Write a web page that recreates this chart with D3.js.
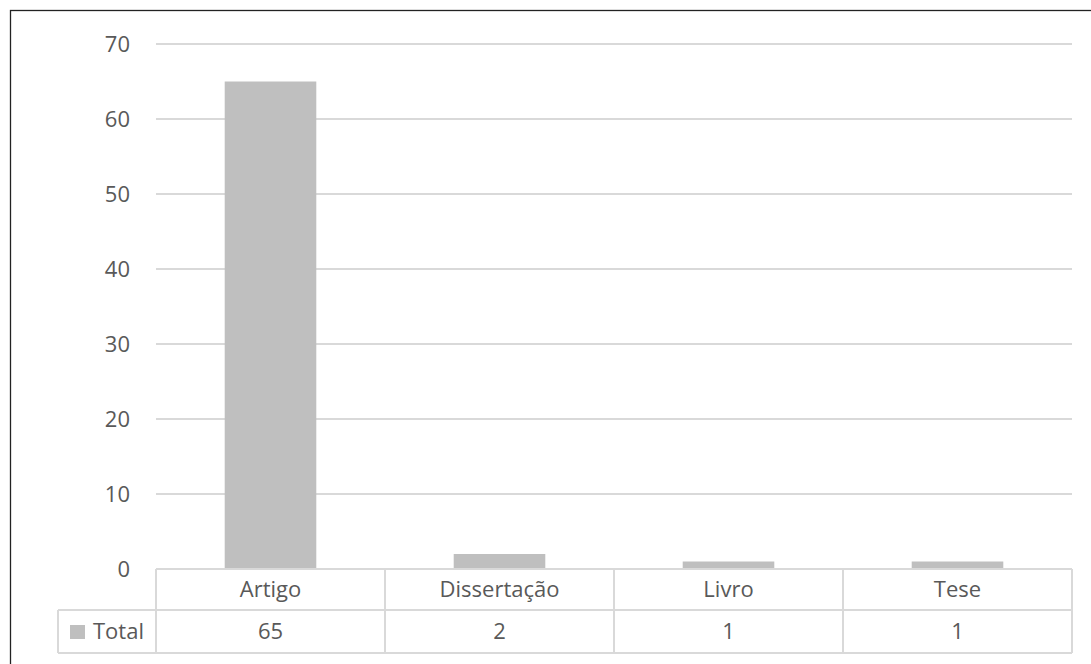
<html>
<meta charset="utf-8">
<title>Total por tipo</title>
<style>
  body { margin: 0; background: #fff; }
  text { font-family: "Open Sans", sans-serif; fill: #595959; }
</style>
<div id="chartContainer"></div>
<script src="https://d3js.org/d3.v7.min.js"></script>
<script type="text/javascript">
  var categories = ["Artigo", "Dissertação", "Livro", "Tese"];
  var totals = [65, 2, 1, 1];
  var seriesName = "Total";
  var yTicks = [0, 10, 20, 30, 40, 50, 60, 70];

  var svg = d3.select("#chartContainer").append("svg")
    .attr("width", 1091)
    .attr("height", 664);

  // outer chart frame (right/bottom sit outside the picture)
  svg.append("rect")
    .attr("x", 10.5).attr("y", 10.5)
    .attr("width", 1100).attr("height", 700)
    .style("fill", "none")
    .style("stroke", "#222")
    .style("stroke-width", 1.3);

  // note: "top" is taken by window.top, so plot* names
  var plotLeft = 156, plotRight = 1072, plotTop = 44, plotBottom = 569;

  var y = d3.scaleLinear().domain([0, 70]).range([plotBottom, plotTop]);
  var x = d3.scaleBand().domain(categories).range([plotLeft, plotRight])
    .paddingInner(0.6).paddingOuter(0.3);
  var cell = d3.scaleBand().domain(categories).range([plotLeft, plotRight]).padding(0);

  // gridlines
  svg.append("g").selectAll("line")
    .data(yTicks.filter(function (d) { return d > 0; }))
    .enter().append("line")
    .attr("x1", plotLeft).attr("x2", plotRight)
    .attr("y1", function (d) { return y(d); })
    .attr("y2", function (d) { return y(d); })
    .style("stroke", "#d9d9d9")
    .style("stroke-width", 2);

  // y labels
  svg.append("g").selectAll("text")
    .data(yTicks)
    .enter().append("text")
    .attr("x", 130)
    .attr("y", function (d) { return y(d); })
    .attr("dy", "0.35em")
    .style("text-anchor", "end")
    .style("font-size", "22px")
    .text(function (d) { return d; });

  // bars
  svg.append("g").selectAll("rect")
    .data(totals)
    .enter().append("rect")
    .attr("x", function (d, i) { return x(categories[i]); })
    .attr("width", x.bandwidth())
    .attr("y", function (d) { return y(d); })
    .attr("height", function (d) { return y(0) - y(d); })
    .style("fill", "#bfbfbf");

  // data table
  var rowTop = plotBottom, rowMid = 610, rowBot = 653, legLeft = 58;
  var grid = svg.append("g")
    .style("stroke", "#d9d9d9")
    .style("stroke-width", 2);

  grid.append("line").attr("x1", plotLeft).attr("x2", plotRight).attr("y1", rowTop).attr("y2", rowTop);
  grid.append("line").attr("x1", legLeft).attr("x2", plotRight).attr("y1", rowMid).attr("y2", rowMid);
  grid.append("line").attr("x1", legLeft).attr("x2", plotRight).attr("y1", rowBot).attr("y2", rowBot);
  grid.append("line").attr("x1", legLeft).attr("x2", legLeft).attr("y1", rowMid).attr("y2", rowBot);

  grid.selectAll(".vline")
    .data(categories.concat(["end"]))
    .enter().append("line")
    .attr("class", "vline")
    .attr("x1", function (d, i) { return plotLeft + i * cell.step(); })
    .attr("x2", function (d, i) { return plotLeft + i * cell.step(); })
    .attr("y1", rowTop).attr("y2", rowBot);

  svg.append("g").selectAll("text")
    .data(categories)
    .enter().append("text")
    .attr("x", function (d) { return cell(d) + cell.bandwidth() / 2; })
    .attr("y", (rowTop + rowMid) / 2)
    .attr("dy", "0.35em")
    .style("text-anchor", "middle")
    .style("font-size", "22px")
    .text(function (d) { return d; });

  svg.append("g").selectAll("text")
    .data(totals)
    .enter().append("text")
    .attr("x", function (d, i) { return cell(categories[i]) + cell.bandwidth() / 2; })
    .attr("y", (rowMid + rowBot) / 2)
    .attr("dy", "0.35em")
    .style("text-anchor", "middle")
    .style("font-size", "22px")
    .text(function (d) { return d; });

  // legend key
  svg.append("rect")
    .attr("x", 70).attr("y", 625)
    .attr("width", 15).attr("height", 14)
    .style("fill", "#bfbfbf");

  svg.append("text")
    .attr("x", 93)
    .attr("y", (rowMid + rowBot) / 2)
    .attr("dy", "0.35em")
    .style("font-size", "22px")
    .text(seriesName);
</script>
</html>
